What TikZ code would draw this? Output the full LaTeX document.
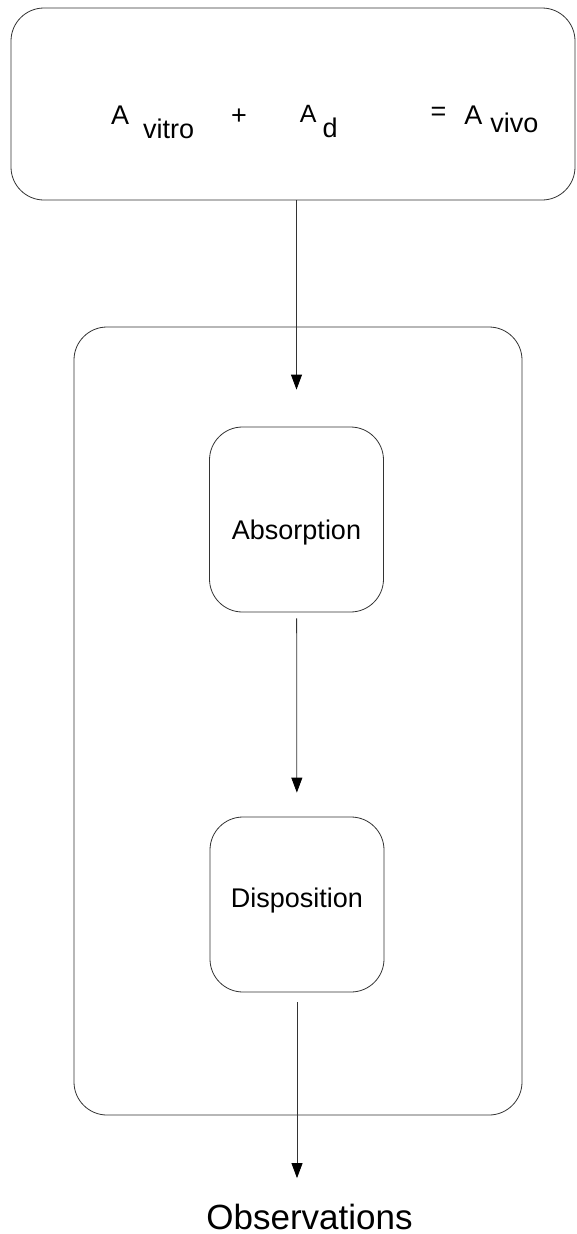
\documentclass[tikz,border=0pt]{standalone}
\usepackage{fontspec}
\setmainfont{Liberation Sans}
\usetikzlibrary{arrows.meta}
\tikzstyle{roundbox} = [rectangle, rounded corners=33pt, draw=black!80, line width=0.8pt]
\tikzstyle{stagebox} = [roundbox, minimum width=174pt, font=\fontsize{27}{30}\selectfont]
\tikzstyle{flow} = [line width=0.8pt, draw=black!80, -{Triangle[length=15pt,width=11pt,black]}]

\begin{document}
\begin{tikzpicture}[x=1pt, y=-1pt]
    \useasboundingbox (0,0) rectangle (576,1234);
    % Boxes
    \node (model) [roundbox, minimum width=564pt, minimum height=192pt] at (293,104) {};
    \node (eqn) [anchor=base west, inner sep=0pt, font=\fontsize{27}{30}\selectfont] at (111,124)
        {A\hspace{14pt}\raisebox{-14pt}{vitro}\hspace{37pt}+\hspace{53pt}\raisebox{2pt}{\fontsize{25}{30}\selectfont A}\hspace{6pt}\raisebox{-13pt}{d}\hspace{93pt}\raisebox{4pt}{=}\hspace{18pt}A\hspace{8pt}\raisebox{-8pt}{vivo}};
    \node (body) [roundbox, minimum width=448pt, minimum height=788pt] at (298,721) {};
    \node (absorb) [stagebox, minimum height=185pt, text height=40pt, text depth=0pt] at (296.5,519.5) {Absorption};
    \node (dispo) [stagebox, minimum height=175pt, text height=20pt, text depth=13.6pt] at (297,904.5) {Disposition};
    \node (obs) [anchor=base, font=\fontsize{35}{40}\selectfont] at (309.5,1229) {Observations};

    % Arrows
    \draw [flow, shorten >=37pt] (model.south -| absorb.north) -- (absorb.north);
    \draw [flow, shorten <=6pt, shorten >=24pt] (absorb) -- (dispo);
    \draw [flow, shorten <=10pt, shorten >=22pt] (dispo.south) -- (dispo.south |- obs.north);
\end{tikzpicture}
\end{document}
